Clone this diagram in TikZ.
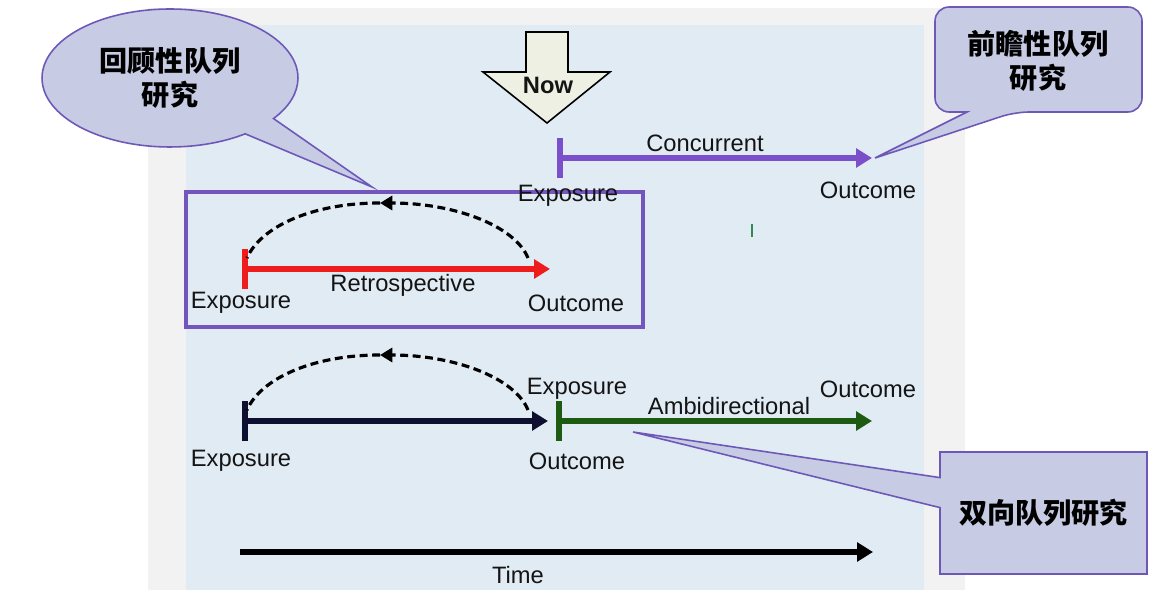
\documentclass[tikz,border=0pt]{standalone}
\usepackage{fontspec}
\setmainfont{Liberation Sans}
\newfontfamily\cjk{Noto Sans CJK SC}
\usetikzlibrary{arrows.meta,shapes.callouts}
\definecolor{panelgray}{HTML}{F2F2F2}
\definecolor{panelblue}{HTML}{E1EBF4}
\definecolor{bubblefill}{HTML}{C7CBE3}
\definecolor{bubbleline}{HTML}{6D58B8}
\definecolor{concpurple}{HTML}{7A4FC9}
\definecolor{framepurple}{HTML}{7455BE}
\definecolor{retrored}{HTML}{EE1C1C}
\definecolor{ambigreen}{HTML}{1E5B12}
\definecolor{ambinavy}{HTML}{0E0E30}
\definecolor{nowfill}{HTML}{EEF0E4}
\definecolor{tickgreen}{HTML}{2E8B57}
\tikzset{
  lbl/.style={font=\fontsize{13.5}{16}\selectfont,inner sep=0pt,text=black!92},
  cjklbl/.style={font=\cjk\bfseries\fontsize{16}{19.5}\selectfont,align=center,text=black},
  bubble/.style={draw=bubbleline,fill=bubblefill,line width=0.9pt},
  timeline/.style={line width=3.5pt,-{Triangle[length=9pt,width=10.5pt]}},
  barline/.style={line width=3.5pt,{Bar[width=22.7pt]}-{Triangle[length=9pt,width=10.5pt]}},
  backarc/.style={line width=1.8pt,dash pattern=on 4.5pt off 2.6pt}
}

\begin{document}
\begin{tikzpicture}[x=0.02cm,y=-0.02cm]
\useasboundingbox (0,0) rectangle (1162,590);
\fill[panelgray] (148,8) rectangle (965,590);
\fill[panelblue] (186,25) rectangle (924,590);
\draw[framepurple,line width=2.2pt] (186,192) rectangle (643,327);

\draw[fill=nowfill,line width=0.9pt] (526,32) -- (568,32) -- (568,72) -- (610,72)
  -- (547,123) -- (483,72) -- (526,72) -- cycle;
\node[lbl,font=\bfseries\fontsize{13.5}{16}\selectfont] (now) at (548,85) {Now};

\coordinate (cExp) at (557,158);
\coordinate (cOut) at (872,158);
\coordinate (rExp) at (242,269);
\coordinate (rOut) at (550,269);
\coordinate (rTop) at (380,203);
\coordinate (rArcL) at (247,258);
\coordinate (rArcR) at (528,258);
\coordinate (aExp) at (242,421);
\coordinate (aMid) at (548,421);
\coordinate (aNow) at (556,421);
\coordinate (aOut) at (872,421);
\coordinate (aTop) at (380,355);
\coordinate (aArcL) at (247,410);
\coordinate (aArcR) at (528,410);
\coordinate (tStart) at (240,552);
\coordinate (tEnd) at (873,552);
\coordinate (retroTip) at (372,187);
\coordinate (proTip) at (875,158);
\coordinate (ambiTip) at (633,432);
\coordinate (mark) at (752,224);

\draw[barline,concpurple] (cExp) -- (cOut);
\draw[barline,retrored] (rExp) -- (rOut);
\draw[barline,ambinavy] (aExp) -- (aMid);
\draw[barline,ambigreen] (aNow) -- (aOut);
\draw[timeline,black] (tStart) -- (tEnd);

\draw[backarc,-{Triangle[length=7pt,width=8pt]}] (rArcR) .. controls (515,226) and (455,203) .. (rTop);
\draw[backarc] (rTop) .. controls (310,203) and (260,228) .. (rArcL);
\draw[backarc,-{Triangle[length=7pt,width=8pt]}] (aArcR) .. controls (515,378) and (455,355) .. (aTop);
\draw[backarc] (aTop) .. controls (310,355) and (260,380) .. (aArcL);

\draw[tickgreen,line width=1.6pt] (mark) -- ++(0,13);

\node[bubble,ellipse callout,cjklbl,minimum width=5.12cm,minimum height=2.76cm,inner sep=0pt,
  callout absolute pointer={(retroTip)},callout pointer arc=18] (retroBub) at (170,78) {回顾性队列\\研究};
\draw[bubble] (967,112) [rounded corners=8pt] -- (935,112) -- (935,7) -- (1142,7) -- (1142,112)
  -- (1015,112) [sharp corners] -- (proTip) -- cycle;
\node[cjklbl] (proBub) at (1038,61) {前瞻性队列\\研究};
\node[bubble,rectangle callout,cjklbl,minimum width=4.14cm,minimum height=2.44cm,
  callout absolute pointer={(ambiTip)},callout pointer width=0.6cm] (ambiBub) at (1043.5,513) {双向队列研究};

\node[lbl] (concTxt) at (705,143) {Concurrent};
\node[lbl] (cExpTxt) at (568,196) {Exposure};
\node[lbl] (cOutTxt) at (868,190) {Outcome};
\node[lbl] (retroTxt) at (403,285) {Retrospective};
\node[lbl] (rExpTxt) at (241,303) {Exposure};
\node[lbl] (rOutTxt) at (576,303) {Outcome};
\node[lbl] (aExpTxt) at (577,389) {Exposure};
\node[lbl] (ambiTxt) at (729,406) {Ambidirectional};
\node[lbl] (aOutTxt) at (868,389) {Outcome};
\node[lbl] (aExp2Txt) at (241,461) {Exposure};
\node[lbl] (aOut2Txt) at (577,461) {Outcome};
\node[lbl] (timeTxt) at (518,575) {Time};
\end{tikzpicture}
\end{document}
